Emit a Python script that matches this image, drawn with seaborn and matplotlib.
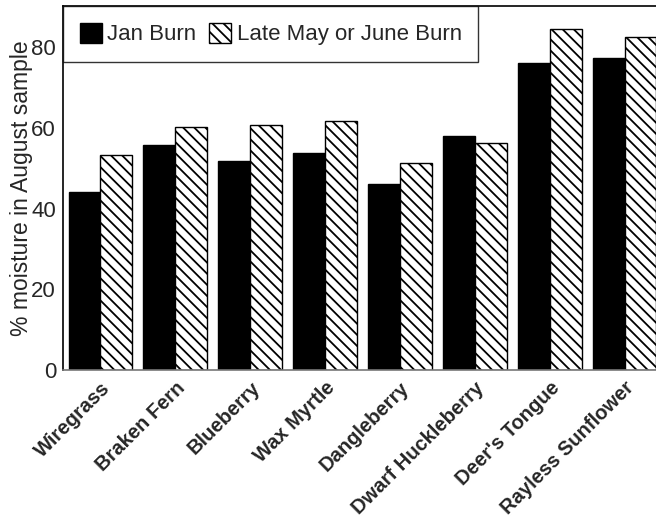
import matplotlib
matplotlib.use("Agg")
import matplotlib.pyplot as plt
import seaborn as sns
import pandas as pd
from matplotlib.patches import Patch

species = ["Wiregrass", "Braken Fern", "Blueberry", "Wax Myrtle", "Dangleberry",
           "Dwarf Huckleberry", "Deer's Tongue", "Rayless Sunflower"]
jan_burn = [44.2, 55.7, 51.7, 53.8, 46.2, 58.1, 76.0, 77.3]
late_burn = [53.3, 60.3, 60.7, 61.8, 51.4, 56.2, 84.5, 82.4]
series_names = ["Jan Burn", "Late May or June Burn"]
y_ticks = [0, 20, 40, 60, 80]

df = pd.DataFrame({
    "species": species * 2,
    "moisture": jan_burn + late_burn,
    "burn": [series_names[0]] * len(species) + [series_names[1]] * len(species),
})

sns.set_style("white")
plt.rcParams["font.family"] = ["Liberation Sans", "DejaVu Sans"]
plt.rcParams["hatch.linewidth"] = 1.3

fig = plt.figure(figsize=(6.56, 5.21), dpi=100)
ax = fig.add_axes([63 / 656, 1 - 370 / 521, 1 - 63 / 656, (370 - 6) / 521])

sns.barplot(data=df, x="species", y="moisture", hue="burn", order=species,
            hue_order=series_names, palette=["black", "white"], width=0.85,
            edgecolor="black", linewidth=1.0, saturation=1, legend=False, ax=ax)

n = len(species)
for i, p in enumerate(ax.patches[: 2 * n]):
    if i >= n:
        p.set_facecolor("white")
        p.set_hatch("\\\\\\")
        p.set_edgecolor("black")

ax.set_ylim(0, 90.2)
ax.set_xlim(-0.5, 7.42)
ax.set_yticks(y_ticks)
ax.set_yticklabels([str(t) for t in y_ticks], fontsize=16)
ax.tick_params(axis="y", length=0, pad=5)
ax.tick_params(axis="x", length=0, pad=6)
ax.set_xticks(range(n))
ax.set_xticklabels(species, rotation=45, ha="right", rotation_mode="anchor",
                   fontsize=14.5, fontweight="bold")
ax.set_xlabel("")
ax.set_ylabel("% moisture in August sample", fontsize=16.5, labelpad=-1)

for side in ["left", "top"]:
    ax.spines[side].set_visible(True)
    ax.spines[side].set_color("black")
    ax.spines[side].set_linewidth(1.2)
ax.spines["bottom"].set_color("#777777")
ax.spines["bottom"].set_linewidth(1.2)
ax.spines["right"].set_visible(False)

handles = [Patch(facecolor="black", edgecolor="black"),
           Patch(facecolor="white", edgecolor="black", hatch="\\\\\\")]
leg = ax.legend(handles, series_names, loc="upper left", bbox_to_anchor=(0, 1),
                ncol=2, fontsize=16, frameon=True, fancybox=False, borderaxespad=0,
                handlelength=1.0, handleheight=1.0, handletextpad=0.25,
                columnspacing=0.55, borderpad=0.75)
leg.get_frame().set_edgecolor("black")
leg.get_frame().set_linewidth(1.0)

fig.savefig("out.png", dpi=100)
